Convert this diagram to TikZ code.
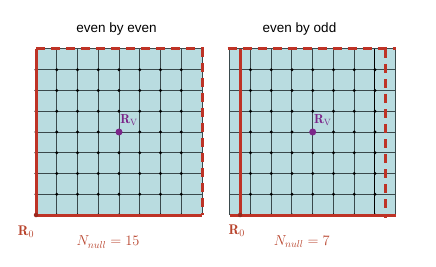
\documentclass[tikz,border=0pt]{standalone}
\usepackage{fontspec}
\newfontfamily\titlefont{Liberation Sans}
\definecolor{cellfill}{HTML}{B9DCE0}
\definecolor{gridc}{HTML}{3A494C}
\definecolor{redl}{HTML}{BE3326}
\definecolor{labred}{HTML}{B8432C}
\definecolor{rvpurple}{HTML}{7B2589}
\begin{document}
\begin{tikzpicture}[x=1pt,y=-1pt,
  gridline/.style={draw=gridc, line width=1pt},
  latdot/.style={fill=black},
  redsolid/.style={draw=redl, line width=3pt},
  reddash/.style={draw=redl, line width=3pt, dash pattern=on 9pt off 6pt},
  r0dot/.style={circle, fill=redl!80!black, inner sep=0pt, minimum size=4.5pt},
  rvdot/.style={circle, fill=rvpurple, inner sep=0pt, minimum size=7pt},
  rvlab/.style={text=rvpurple, inner sep=0pt, font=\fontsize{13}{15}\selectfont},
  r0lab/.style={text=labred, inner sep=0pt, font=\fontsize{14}{16}\selectfont},
  nlab/.style={text=labred, inner sep=0pt, font=\fontsize{14.5}{17}\selectfont},
  title/.style={inner sep=0pt, font=\titlefont\fontsize{13.5}{16}\selectfont}]
\useasboundingbox (0,0) rectangle (436,267);
\def\cc{20.75}
% ---------------- left panel ----------------
\def\xa{36}
\def\ya{49}
\fill[cellfill] (\xa,\ya) rectangle ({\xa+8*\cc},{\ya+8*\cc});
\foreach \i in {0,...,8}{
  \draw[gridline] ({\xa+\i*\cc},\ya) -- ({\xa+\i*\cc},{\ya+8*\cc});
  \draw[gridline] (\xa,{\ya+\i*\cc}) -- ({\xa+8*\cc},{\ya+\i*\cc});
}
\foreach \i in {0,...,7}{
  \foreach \j in {1,...,8}{
    \fill[latdot] ({\xa+\i*\cc},{\ya+\j*\cc}) circle (1.7);
  }
}
\draw[reddash] (\xa,\ya) -- ({\xa+8*\cc},\ya) -- ({\xa+8*\cc},{\ya+8*\cc});
\draw[redsolid] (\xa,\ya) -- (\xa,{\ya+8*\cc}) -- ({\xa+8*\cc},{\ya+8*\cc});
\node[r0dot] (r0a) at (\xa,{\ya+8*\cc}) {};
\node[rvdot] (rva) at ({\xa+4*\cc},{\ya+4*\cc}) {};
\node[rvlab] (rvla) at ({\xa+4*\cc+10},{\ya+4*\cc-12}) {$\mathbf{R}_\mathrm{V}$};
\node[r0lab] (r0la) at (26,232) {$\mathbf{R}_0$};
\node[nlab] (nla) at (108,242) {$N_{null}=15$};
\node[title] (ta) at (116.5,29) {even by even};
% ---------------- right panel ----------------
\def\xb{229.7}
\fill[cellfill] (\xb,\ya) rectangle ({\xb+8*\cc},{\ya+8*\cc});
\foreach \i in {0,...,8}{
  \draw[gridline] ({\xb+\i*\cc},\ya) -- ({\xb+\i*\cc},{\ya+8*\cc});
  \draw[gridline] (\xb,{\ya+\i*\cc}) -- ({\xb+8*\cc},{\ya+\i*\cc});
}
\draw[draw=black, line width=1pt] ({\xb+7*\cc},\ya) -- ({\xb+7*\cc},{\ya+8*\cc});
\foreach \i in {1,...,7}{
  \foreach \j in {1,...,8}{
    \fill[latdot] ({\xb+\i*\cc},{\ya+\j*\cc}) circle (1.7);
  }
}
\draw[reddash] ({\xb-2},\ya) -- ({\xb+8*\cc},\ya);
\draw[reddash] ({\xb+7.5*\cc},\ya) -- ({\xb+7.5*\cc},{\ya+8*\cc+3});
\draw[redsolid] ({\xb+0.5*\cc},\ya) -- ({\xb+0.5*\cc},{\ya+8*\cc});
\draw[redsolid] (\xb,{\ya+8*\cc}) -- ({\xb+8*\cc},{\ya+8*\cc});
\node[r0dot] (r0b) at ({\xb+0.5*\cc},{\ya+8*\cc}) {};
\node[rvdot] (rvb) at ({\xb+4*\cc},{\ya+4*\cc}) {};
\node[rvlab] (rvlb) at ({\xb+4*\cc+10},{\ya+4*\cc-12}) {$\mathbf{R}_\mathrm{V}$};
\node[r0lab] (r0lb) at (236.7,230.5) {$\mathbf{R}_0$};
\node[nlab] (nlb) at (301.7,241.5) {$N_{null}=7$};
\node[title] (tb) at (299.5,29) {even by odd};
\end{tikzpicture}
\end{document}
